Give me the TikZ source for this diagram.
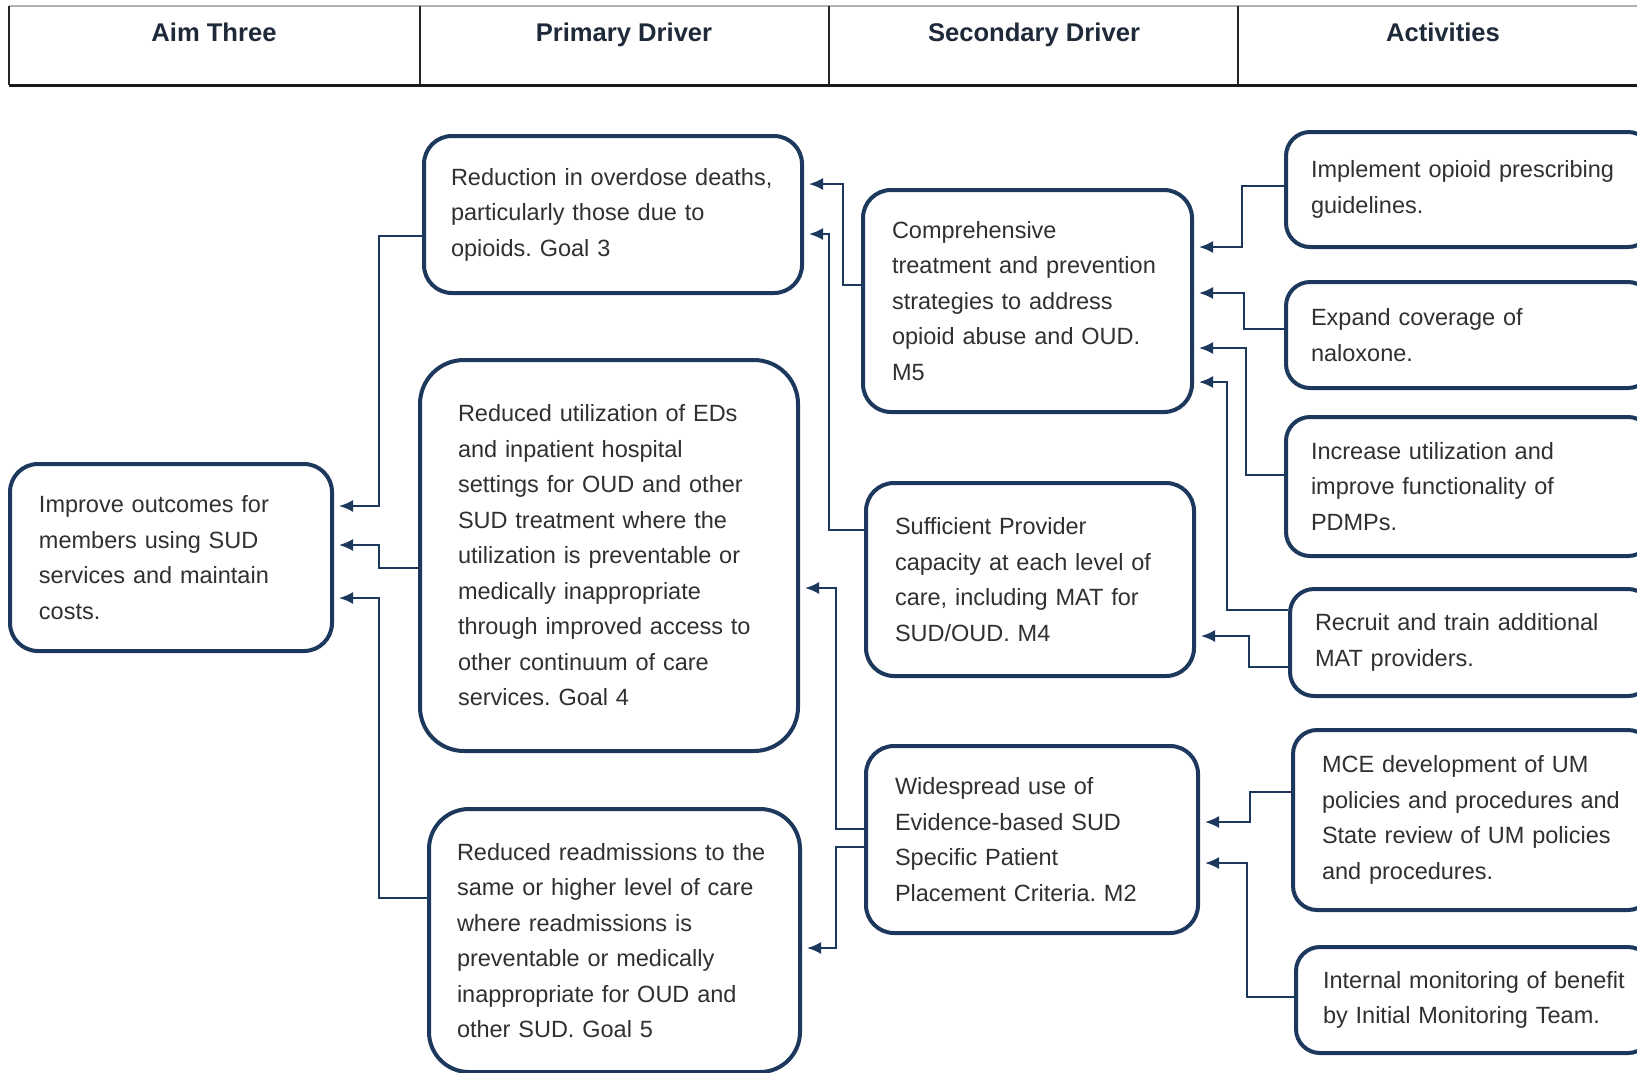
\documentclass[tikz,border=0pt]{standalone}
\usepackage{fontspec}
\setmainfont{Liberation Sans}
\usepackage{xcolor}
\usepackage{tikz}
\usetikzlibrary{arrows.meta}
\frenchspacing

\definecolor{navy}{RGB}{28,56,92}
\definecolor{bodytext}{RGB}{48,48,48}
\definecolor{headtext}{RGB}{30,42,58}

\begin{document}
\begin{tikzpicture}[
  x=0.5pt,y=-0.5pt,
  box/.style={draw=navy,line width=2pt,rounded corners=14pt,fill=white,
    anchor=north west,align=left,text=bodytext,inner ysep=0pt,
    font=\fontsize{11.75pt}{17.75pt}\selectfont},
  head/.style={anchor=base,text=headtext,font=\fontsize{12.8pt}{15pt}\selectfont\bfseries},
  rule/.style={line width=0.8pt,black!85},
  link/.style={-{Latex[length=7pt,width=6pt]},navy,line width=1pt,shorten >=2.5pt}
]
\useasboundingbox (0,0) rectangle (1637,1072);
\clip (0,0) rectangle (1637,1072);
\fill[white] (0,0) rectangle (1637,1072);

% header row
\draw[line width=0.6pt,gray!60] (9,6) -- (1637,6);
\foreach \xcol in {9,420,829,1238}
  \draw[rule] (\xcol,6) -- (\xcol,85);
\draw[line width=1.5pt,black!90] (9,85) -- (1637,85);
\node[head] (hAim) at (214,41) {Aim Three};
\node[head] (hPrimary) at (624,41) {Primary Driver};
\node[head] (hSecondary) at (1034,41) {Secondary Driver};
\node[head] (hActivities) at (1443,41) {Activities};

% aim
\node[box,minimum height=93.5pt,text width=132pt,inner xsep=14.5pt] (aim) at (8,462)
  {Improve outcomes for\\members using SUD\\services and maintain\\costs.};

% primary drivers
\node[box,minimum height=78.5pt,text width=162pt,inner xsep=13.5pt] (p1) at (422,134)
  {Reduction in overdose deaths,\\particularly those due to\\opioids. Goal 3};
\node[box,rounded corners=22pt,minimum height=195.5pt,text width=151pt,inner xsep=19pt] (p2) at (418,358)
  {Reduced utilization of EDs\\and inpatient hospital\\settings for OUD and other\\SUD treatment where the\\utilization is preventable or\\medically inappropriate\\through improved access to\\other continuum of care\\services. Goal 4};
\node[box,rounded corners=20pt,minimum height=131.5pt,text width=157.5pt,inner xsep=14pt] (p3) at (427,807)
  {Reduced readmissions to the\\same or higher level of care\\where readmissions is\\preventable or medically\\inappropriate for OUD and\\other SUD. Goal 5};

% secondary drivers
\node[box,minimum height=111pt,text width=135.5pt,inner xsep=14.5pt] (sec1) at (861,188)
  {Comprehensive\\treatment and prevention\\strategies to address\\opioid abuse and OUD.\\M5};
\node[box,minimum height=96.5pt,text width=135pt,inner xsep=14.5pt] (sec2) at (864,481)
  {Sufficient Provider\\capacity at each level of\\care, including MAT for\\SUD/OUD. M4};
\node[box,minimum height=93.5pt,text width=137pt,inner xsep=14.5pt] (sec3) at (864,744)
  {Widespread use of\\Evidence-based SUD\\Specific Patient\\Placement Criteria. M2};

% activities
\node[box,rounded corners=12pt,minimum height=57.5pt,text width=158pt,inner xsep=12.5pt] (A1) at (1284,130)
  {Implement opioid prescribing\\guidelines.};
\node[box,rounded corners=12pt,minimum height=53pt,text width=158pt,inner xsep=12.5pt] (A2) at (1284,280)
  {Expand coverage of\\naloxone.};
\node[box,rounded corners=12pt,minimum height=69.5pt,text width=158pt,inner xsep=12.5pt] (A3) at (1284,415)
  {Increase utilization and\\improve functionality of\\PDMPs.};
\node[box,rounded corners=12pt,minimum height=53.5pt,text width=156pt,inner xsep=12.5pt] (A4) at (1288,587)
  {Recruit and train additional\\MAT providers.};
\node[box,rounded corners=12pt,minimum height=90pt,text width=150.5pt,inner xsep=14.5pt] (A5) at (1291,728)
  {MCE development of UM\\policies and procedures and\\State review of UM policies\\and procedures.};
\node[box,rounded corners=12pt,minimum height=53pt,text width=151pt,inner xsep=13.5pt] (A6) at (1294,945)
  {Internal monitoring of benefit\\by Initial Monitoring Team.};

% primary -> aim
\draw[link] (p1.west |- 0,236) -| (379,506) -- (aim.east |- 0,506);
\draw[link] (p2.west |- 0,568) -| (379,545) -- (aim.east |- 0,545);
\draw[link] (p3.west |- 0,898) -| (379,598) -- (aim.east |- 0,598);

% secondary -> primary
\draw[link] (sec1.west |- 0,285) -| (843,184) -- (p1.east |- 0,184);
\draw[link] (sec2.west |- 0,530) -| (829,234) -- (p1.east |- 0,234);
\draw[link] (sec3.west |- 0,829) -| (836,588) -- (p2.east |- 0,588);
\draw[link] (sec3.west |- 0,847) -| (836,948) -- (p3.east |- 0,948);

% activities -> secondary
\draw[link] (A1.west |- 0,186) -| (1242,247) -- (sec1.east |- 0,247);
\draw[link] (A2.west |- 0,329) -| (1244,293) -- (sec1.east |- 0,293);
\draw[link] (A3.west |- 0,475) -| (1246,348) -- (sec1.east |- 0,348);
\draw[link] (A4.west |- 0,610) -| (1227,382) -- (sec1.east |- 0,382);
\draw[link] (A4.west |- 0,667) -| (1249,636) -- (sec2.east |- 0,636);
\draw[link] (A5.west |- 0,792) -| (1250,822) -- (sec3.east |- 0,822);
\draw[link] (A6.west |- 0,997) -| (1247,863) -- (sec3.east |- 0,863);
\end{tikzpicture}
\end{document}
